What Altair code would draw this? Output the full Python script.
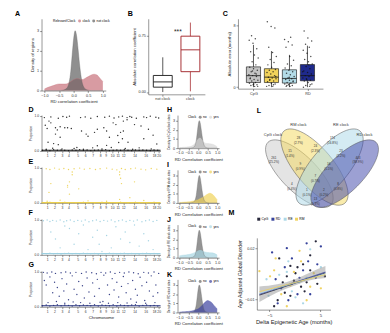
import altair as alt
import pandas as pd

FONT = "Liberation Sans"

# ---------------- data: densities (A, H-K) ----------------
dens_x = [-1.0, -0.9, -0.8, -0.7, -0.6, -0.5, -0.4, -0.3, -0.2, -0.15, -0.1, -0.05, 0.0,
          0.05, 0.1, 0.15, 0.2, 0.25, 0.3, 0.4, 0.5, 0.6, 0.7, 0.8, 0.9, 1.0]
dens_notclock = [0, 0, 0, 0, 0, 0, 0.01, 0.05, 0.2, 0.45, 0.95, 1.8, 2.6,
                 3.0, 2.75, 2.1, 1.35, 0.75, 0.35, 0.08, 0.02, 0, 0, 0, 0, 0]
dens_clock = [0.08, 0.15, 0.2, 0.25, 0.3, 0.33, 0.33, 0.33, 0.36, 0.4, 0.45, 0.5, 0.55,
              0.58, 0.6, 0.6, 0.58, 0.55, 0.55, 0.62, 0.7, 0.78, 0.82, 0.78, 0.62, 0.45]
dens_cpg = [0.05, 0.07, 0.09, 0.11, 0.13, 0.15, 0.2, 0.3, 0.45, 0.6, 0.75, 0.9, 1.0,
            1.08, 1.1, 1.0, 0.9, 0.75, 0.62, 0.52, 0.5, 0.48, 0.45, 0.4, 0.3, 0.15]
dens_rm = [0.05, 0.06, 0.08, 0.1, 0.11, 0.12, 0.15, 0.2, 0.25, 0.28, 0.3, 0.33, 0.36,
           0.42, 0.48, 0.52, 0.56, 0.62, 0.7, 0.85, 0.97, 1.05, 1.0, 0.85, 0.6, 0.35]
dens_re = [0.2, 0.25, 0.28, 0.3, 0.33, 0.35, 0.4, 0.47, 0.55, 0.6, 0.65, 0.7, 0.75,
           0.78, 0.8, 0.78, 0.75, 0.7, 0.65, 0.6, 0.56, 0.55, 0.53, 0.5, 0.42, 0.3]
dens_rd = [0.05, 0.06, 0.07, 0.08, 0.1, 0.12, 0.15, 0.2, 0.25, 0.28, 0.32, 0.36, 0.4,
           0.48, 0.58, 0.66, 0.75, 0.88, 1.0, 1.2, 1.3, 1.22, 1.1, 0.85, 0.6, 0.4]

# ---------------- data: B ----------------
B_cats = ["not clock", "clock"]
B_min = [0.0, 0.01]
B_q1 = [0.065, 0.27]
B_med = [0.135, 0.56]
B_q3 = [0.22, 0.74]
B_max = [0.46, 0.92]

# ---------------- data: C ----------------
C_cats = ["CpG", "RM", "RE", "RD"]
C_colors = ["#c4c4c4", "#f2d35b", "#b3dce8", "#1f2a8c"]
C_min = [0.0, 0.0, 0.0, 0.0]
C_q1 = [0.6, 0.6, 0.53, 0.83]
C_med = [1.5, 1.3, 1.13, 1.5]
C_q3 = [2.64, 2.4, 2.26, 2.94]
C_max = [5.5, 4.7, 4.2, 5.4]
C_pts = {
    "CpG": [0.1, 0.2, 0.3, 0.3, 0.5, 0.6, 0.8, 0.9, 1.0, 1.2, 1.4, 1.5, 1.6, 1.8, 2.0, 2.2, 2.4,
            2.6, 2.9, 3.3, 3.8, 4.2, 4.6, 5.0, 5.7, 6.1, 6.3, 6.7, 0.1, 0.4, 1.1, 1.7, 2.1],
    "RM": [0.1, 0.1, 0.2, 0.4, 0.5, 0.7, 0.8, 1.0, 1.1, 1.2, 1.3, 1.5, 1.7, 1.9, 2.0, 2.2, 2.3,
           2.6, 2.9, 3.2, 3.6, 4.0, 4.5, 5.2, 7.7, 7.9, 8.5, 0.3, 0.9, 1.4],
    "RE": [0.1, 0.1, 0.2, 0.3, 0.4, 0.5, 0.6, 0.8, 0.9, 1.0, 1.1, 1.2, 1.4, 1.6, 1.8, 2.0, 2.2,
           2.5, 2.8, 3.0, 3.5, 4.0, 5.2, 5.5, 5.9, 6.2, 6.5, 0.2, 0.7, 1.3],
    "RD": [0.0, 0.1, 0.2, 0.4, 0.6, 0.8, 0.9, 1.0, 1.2, 1.4, 1.5, 1.7, 1.9, 2.1, 2.4, 2.7, 3.0,
           3.3, 3.6, 4.0, 4.4, 4.8, 5.2, 5.6, 6.0, 6.4, 7.3, 0.3, 1.1, 2.0, 2.9],
}

# ---------------- data: D-G ----------------
chrom_labels = ["1", "2", "3", "4", "5", "6", "7", "8", "9", "10", "11", "12", "14", "16", "18", "20"]
chrom_pos = [6, 14, 22, 29, 39, 47, 55, 63, 69, 76, 82, 88, 100, 112, 121, 126]
base_x = [1, 5, 9, 13, 17, 21, 25, 29, 33, 37, 41, 45, 49, 53, 57, 61, 65, 69, 73, 77, 81, 85,
          89, 93, 97, 101, 105, 109, 113, 117, 121, 125]

D_x = [3, 10, 18, 23, 27, 30, 42, 47, 53, 60, 68, 73, 78, 83, 87, 92, 95, 97, 102, 110, 113, 117, 123, 126,
       4, 6, 8, 10, 15, 17, 20, 25, 28, 32, 15, 20, 7, 13, 18, 43, 48, 50, 57, 60, 67, 70, 73, 77, 80, 82,
       85, 88, 87, 88, 92, 93, 83, 70, 60, 100, 107, 110, 115, 120, 124,
       5, 12, 22, 35, 38, 45, 55, 65, 75, 90, 98, 105, 118]
D_y = [0.95, 0.97, 0.93, 0.98, 0.96, 0.99, 0.95, 0.97, 0.93, 0.98, 0.96, 0.99, 0.94, 0.97, 0.99, 0.95, 0.98, 0.96, 0.93, 0.97, 0.95, 0.99, 0.96, 0.94,
       0.73, 0.64, 0.85, 0.8, 0.66, 0.6, 0.69, 0.66, 0.66, 0.64, 0.48, 0.39, 0.25, 0.21, 0.18, 0.57, 0.48, 0.42, 0.53, 0.62, 0.66, 0.57, 0.39, 0.8, 0.75, 0.44,
       0.53, 0.57, 0.35, 0.85, 0.89, 0.25, 0.24, 0.16, 0.15, 0.75, 0.71, 0.35, 0.62, 0.45, 0.2,
       0.05, 0.08, 0.06, 0.07, 0.1, 0.05, 0.09, 0.06, 0.1, 0.07, 0.05, 0.09, 0.06]
D_base_y = [0.02, 0.03, 0.01, 0.04, 0.02, 0.03, 0.02, 0.01, 0.03, 0.02, 0.04, 0.02, 0.03, 0.01, 0.02, 0.03,
            0.02, 0.04, 0.01, 0.02, 0.03, 0.02, 0.04, 0.02, 0.01, 0.03, 0.02, 0.03, 0.02, 0.01, 0.03, 0.02]

E_x = [5, 9, 14, 19, 24, 29, 35, 41, 46, 52, 58, 63, 70, 76, 81, 86, 90, 96, 101, 107, 112, 118, 124,
       33, 33, 30, 10, 28, 28, 8, 30, 84, 84, 85, 86, 40, 100, 95,
       6, 20, 50, 70, 84, 110]
E_y = [0.97, 0.95, 0.99, 0.96, 0.98, 0.95, 0.97, 0.99, 0.96, 0.98, 0.95, 0.97, 0.99, 0.96, 0.94, 0.98, 0.95, 0.97, 0.99, 0.96, 0.94, 0.98, 0.96,
       0.88, 0.8, 0.6, 0.55, 0.5, 0.45, 0.3, 0.25, 0.88, 0.8, 0.7, 0.55, 0.4, 0.6, 0.15,
       0.05, 0.08, 0.06, 0.05, 0.1, 0.07]
E_base_y = [0.01, 0.0, 0.02, 0.01, 0.0, 0.01, 0.02, 0.0, 0.01, 0.0, 0.01, 0.02, 0.0, 0.01, 0.0, 0.01,
            0.02, 0.01, 0.0, 0.01, 0.0, 0.02, 0.01, 0.0, 0.01, 0.02, 0.0, 0.01, 0.0, 0.01, 0.02, 0.0]

F_x = [2, 6, 9, 12, 16, 20, 24, 27, 31, 35, 39, 43, 47, 51, 55, 59, 63, 67, 71, 75, 79, 83, 87, 91, 95, 99, 103, 108, 112, 116, 120, 124,
       10, 15, 25, 30, 40, 45, 55, 60, 62, 70, 75, 80, 85, 90, 95, 100, 105, 110, 115, 120, 20, 35, 50, 65]
F_y = [0.97, 0.99, 0.95, 0.98, 0.96, 0.99, 0.94, 0.97, 0.99, 0.95, 0.98, 0.96, 0.99, 0.94, 0.97, 0.99, 0.95, 0.98, 0.96, 0.99, 0.94, 0.97, 0.99, 0.95, 0.98, 0.96, 0.99, 0.94, 0.97, 0.99, 0.95, 0.98,
       0.65, 0.45, 0.82, 0.75, 0.6, 0.85, 0.5, 0.7, 0.3, 0.55, 0.2, 0.8, 0.45, 0.65, 0.35, 0.85, 0.25, 0.6, 0.4, 0.15, 0.2, 0.3, 0.15, 0.1]
F_base_y = [0.04, 0.03, 0.05, 0.03, 0.04, 0.02, 0.04, 0.05, 0.03, 0.04, 0.03, 0.05, 0.04, 0.03, 0.04, 0.02,
            0.04, 0.03, 0.05, 0.04, 0.03, 0.04, 0.05, 0.03, 0.04, 0.03, 0.02, 0.04, 0.05, 0.03, 0.04, 0.03]

G_x = [2, 6, 11, 15, 21, 26, 31, 37, 43, 48, 54, 59, 64, 69, 74, 79, 84, 89, 94, 99, 104, 110, 115, 121, 126,
       3, 5, 9, 12, 14, 17, 19, 22, 24, 27, 29, 33, 35, 38, 40, 44, 46, 49, 51, 55, 57, 60, 62, 66, 67, 71, 73,
       76, 78, 81, 83, 86, 88, 91, 93, 96, 98, 101, 103, 106, 108, 111, 113, 116, 118, 120, 123, 125,
       7, 16, 25, 34, 42, 52, 63, 72, 82, 92, 102, 112, 122]
G_y = [0.98, 0.96, 0.99, 0.95, 0.97, 0.99, 0.96, 0.98, 0.95, 0.99, 0.97, 0.94, 0.98, 0.96, 0.99, 0.95, 0.98, 0.96, 0.99, 0.97, 0.94, 0.98, 0.96, 0.99, 0.95,
       0.75, 0.62, 0.85, 0.4, 0.7, 0.55, 0.3, 0.8, 0.45, 0.65, 0.2, 0.88, 0.5, 0.35, 0.72, 0.6, 0.25, 0.82, 0.42, 0.68, 0.3, 0.78, 0.52, 0.15, 0.9, 0.62, 0.35,
       0.8, 0.48, 0.7, 0.28, 0.58, 0.86, 0.4, 0.66, 0.22, 0.75, 0.5, 0.33, 0.84, 0.6, 0.18, 0.7, 0.45, 0.88, 0.3, 0.62, 0.4,
       0.12, 0.15, 0.1, 0.14, 0.12, 0.1, 0.13, 0.1, 0.12, 0.11, 0.13, 0.1, 0.12]
G_base_y = [0.03, 0.05, 0.02, 0.04, 0.06, 0.03, 0.05, 0.04, 0.02, 0.06, 0.03, 0.05, 0.04, 0.03, 0.06, 0.02,
            0.05, 0.04, 0.03, 0.06, 0.02, 0.05, 0.04, 0.03, 0.05, 0.06, 0.02, 0.04, 0.05, 0.03, 0.04, 0.02]

# ---------------- data: L (Venn) ----------------
V_sets = ["CpG clock", "RM clock", "RE clock", "RD clock"]
V_colors = ["#c9c9c9", "#f4d75a", "#a9d8e8", "#3a42a8"]
V_cx = [45, 61, 77, 93]
V_cy = [62, 55, 55, 62]
V_len = [94, 100, 100, 94]
V_angle = [45, 50, 310, 315]
V_lab_x = [17, 44, 89, 114]
V_lab_y = [21, 10, 10, 21]
R_count = ["261", "28", "174", "403", "15", "24", "23", "9", "16", "4", "7", "8", "1", "2", "13"]
R_pct = ["(25.2%)", "(2.7%)", "(16.8%)", "(38.9%)", "(1.4%)", "(2.3%)", "(2.2%)", "(0.9%)",
         "(1.5%)", "(0.4%)", "(0.7%)", "(0.8%)", "(0.1%)", "(0.2%)", "(1.3%)"]
R_x = [18, 44, 80, 107, 35, 62, 89, 46, 76, 37, 62, 86, 53, 71, 62]
R_y = [45, 24, 24, 45, 38, 33, 38, 52, 52, 73, 65, 73, 79, 79, 89]

# ---------------- data: M ----------------
M_groups = ["CpG", "RD", "RE", "RM"]
M_colors = ["#1c1c30", "#2b3896", "#a8d5e5", "#efd15a"]
M_pts = {
    "CpG": ([-3.1, -0.9, 1.6, 4.1, 0.1, 3.0, 1.2, 1.9, -0.9, -2.0, -3.4, -4.1, 2.3, 4.4, -0.2, -1.6, 0.5, 3.0, -2.4, 5.9],
            [0.014, 0.0096, 0.0105, 0.024, 0.0053, 0.007, -0.0026, -0.0053, -0.0079, -0.0061, -0.0105, -0.014, 0.0, -0.0009, 0.0009, 0.0035, 0.0088, 0.0158, 0.0, 0.0035]),
    "RD": ([-4.5, -1.6, -0.6, 2.3, 5.1, 0.9, -3.8, -2.7, -1.3, 0.5, 3.0, 4.1, 1.6, -0.6, -3.4, 2.6, -2.0, 4.4],
           [0.0175, 0.02, 0.014, 0.0228, 0.021, 0.0026, 0.0018, -0.0035, -0.0105, -0.007, -0.007, 0.0026, 0.007, -0.0009, -0.0123, 0.0123, 0.0088, 0.0105]),
    "RE": ([-5.6, -4.1, -1.6, 0.9, -2.4, 0.1, 2.3, -1.3, 3.0, -3.1, -0.6, 1.6, 5.1, -5.2],
           [0.0018, -0.0044, 0.0061, 0.0, -0.0026, -0.0088, 0.0026, 0.0123, 0.0193, 0.0044, -0.0053, -0.0123, 0.0088, -0.0079]),
    "RM": ([-7.0, -4.9, -3.8, -0.2, 1.2, 3.0, 3.7, -2.7, -1.6, 2.3, 5.1, -0.9, 0.9, -4.1],
           [0.0065, 0.0035, 0.014, 0.0061, 0.0123, -0.0026, 0.0053, -0.007, -0.014, -0.0105, -0.0035, -0.0018, 0.0184, 0.007]),
}
M_line_x = [-7.0, 6.0]
M_line_y = {"CpG": [-0.0075, 0.0055], "RD": [-0.007, 0.006], "RE": [-0.0065, 0.005], "RM": [-0.0055, 0.0045]}
M_band_x = [-7.0, -3.5, 0.0, 3.0, 6.0]
M_band_lo = [-0.0115, -0.006, -0.0018, 0.0012, 0.0025]
M_band_hi = [-0.0025, -0.0012, 0.0018, 0.0058, 0.0095]


# ---------------- helpers ----------------
def letter(t, dx=0):
    return alt.TitleParams(t, anchor="start", fontSize=7.5, fontWeight="bold", font=FONT,
                           offset=1, dx=dx, color="black")


def indep(c):
    return c.resolve_scale(color="independent", fill="independent", stroke="independent").resolve_legend(
        color="independent", fill="independent", stroke="independent")


def density_panel(t, series, names, colors, legend_title, ytitle, w, h, dx=0, ytf=4.5, lx=0.2):
    rows = []
    for nm, vals in zip(names, series):
        for xv, dv in zip(dens_x, vals):
            rows.append({"x": xv, "d": dv, "g": nm})
    df = pd.DataFrame(rows)
    return alt.Chart(df, title=letter(t, dx)).mark_area(
        interpolate="monotone", opacity=0.7, line={"strokeWidth": 0.4, "opacity": 0.9}
    ).encode(
        x=alt.X("x:Q", scale=alt.Scale(domain=[-1.1, 1.1], nice=False),
                axis=alt.Axis(values=[-1, -0.5, 0, 0.5, 1], format=".1f",
                              title="RD correlation coefficient" if t == "A" else "RD Correlation coefficient")),
        y=alt.Y("d:Q", stack=None, scale=alt.Scale(domain=[0, 3.6], nice=False),
                axis=alt.Axis(values=[0, 1, 2, 3], title=ytitle, titleFontSize=ytf)),
        color=alt.Color("g:N", scale=alt.Scale(domain=names, range=colors),
                        legend=alt.Legend(orient="none", legendX=w * lx, legendY=0, direction="horizontal",
                                          title=legend_title, titleOrient="left")),
    ).properties(width=w, height=h)


# ---------------- A ----------------
chartA = density_panel("A", [dens_clock, dens_notclock], ["clock", "not clock"],
                       ["#c8717b", "#5f5f5f"], "Relevant/Clock", "Density of regions", 68, 76, dx=-16, lx=0.18)

# ---------------- B ----------------
dfB = pd.DataFrame({"cat": B_cats, "lo": B_min, "q1": B_q1, "med": B_med, "q3": B_q3, "hi": B_max})
B_col = alt.Color("cat:N", scale=alt.Scale(domain=B_cats, range=["#222222", "#a3262b"]), legend=None)
B_x = alt.X("cat:N", sort=B_cats, scale=alt.Scale(paddingInner=0.45, paddingOuter=0.25),
            axis=alt.Axis(labelAngle=0, title=None))
B_y = alt.Y("lo:Q", scale=alt.Scale(domain=[-0.03, 0.97], nice=False),
            axis=alt.Axis(values=[0, 0.25, 0.5, 0.75], format=".2f", title="Absolute correlation coefficient"))
bw = alt.Chart(dfB).mark_rule(strokeWidth=0.8).encode(x=B_x, y=B_y, y2="hi:Q", color=B_col)
bb = alt.Chart(dfB).mark_bar(size=20, fill="white", strokeWidth=1).encode(
    x=B_x, y="q1:Q", y2="q3:Q",
    stroke=alt.Stroke("cat:N", scale=alt.Scale(domain=B_cats, range=["#222222", "#a3262b"]), legend=None))
bm = alt.Chart(dfB).mark_tick(size=20, thickness=1.4).encode(x=B_x, y="med:Q", color=B_col)
dfStar = pd.DataFrame({"cat": ["not clock"], "lo": [0.8], "t": ["***"]})
bs = alt.Chart(dfStar).mark_text(fontSize=7, dx=16, font=FONT, color="#222").encode(x=B_x, y="lo:Q", text="t:N")
chartB = alt.layer(bw, bb, bm, bs, title=letter("B", -4)).properties(width=60, height=80)

# ---------------- C ----------------
dfCb = pd.DataFrame({"cat": C_cats, "idx": list(range(len(C_cats))), "lo": C_min, "q1": C_q1,
                     "med": C_med, "q3": C_q3, "hi": C_max})
rowsC = []
for i, c in enumerate(C_cats):
    for v in C_pts[c]:
        rowsC.append({"cat": c, "idx": i, "v": v})
dfCp = pd.DataFrame(rowsC)
labexprC = "[" + ",".join("'%s'" % c for c in C_cats) + "][datum.value]"
C_xs = alt.Scale(domain=[-0.6, 3.6], nice=False, zero=False)
C_xax = alt.Axis(values=list(range(len(C_cats))), labelExpr=labexprC, title=None, grid=False)
C_ys = alt.Scale(domain=[-0.2, 8.9], nice=False)
C_yax = alt.Axis(values=[0, 2, 4, 6, 8], title="Absolute error (months)")
cw = alt.Chart(dfCb).mark_rule(strokeWidth=0.8, color="#222").encode(
    x=alt.X("idx:Q", scale=C_xs, axis=C_xax), y=alt.Y("lo:Q", scale=C_ys, axis=C_yax), y2="hi:Q")
cb = alt.Chart(dfCb).mark_bar(size=15, stroke="#222", strokeWidth=0.7).encode(
    x="idx:Q", y="q1:Q", y2="q3:Q",
    fill=alt.Fill("cat:N", scale=alt.Scale(domain=C_cats, range=C_colors), legend=None))
cm = alt.Chart(dfCb).mark_tick(size=15, thickness=1.2, color="#111", orient="horizontal").encode(x="idx:Q", y="med:Q")
cp = alt.Chart(dfCp).transform_window(rn="row_number()").transform_calculate(
    px="datum.idx + ((datum.rn * 0.6180339) % 1 - 0.5) * 0.55"
).mark_circle(size=2.5, color="#111", opacity=0.75).encode(x="px:Q", y="v:Q")
chartC = alt.layer(cw, cb, cp, cm, title=letter("C", -4)).properties(width=90, height=74)

# ---------------- D-G ----------------
labexprChr = "{" + ",".join("'%d':'%s'" % (p, l) for p, l in zip(chrom_pos, chrom_labels)) + "}[''+datum.value]"


def prop_panel(t, xs, ys, bys, color, xtitle, line_y):
    df = pd.DataFrame({"x": list(xs) + base_x, "y": list(ys) + bys})
    xsc = alt.Scale(domain=[0, 128], nice=False)
    xax = alt.Axis(values=chrom_pos, labelExpr=labexprChr, labelOverlap=False, title=xtitle, ticks=True,
                   labelFontSize=3.5)
    ysc = alt.Scale(domain=[0, 1.02], nice=False)
    yax = alt.Axis(values=[0, 0.2, 0.4, 0.6, 0.8, 1.0], format=".1f", title="Proportion", titleFontSize=3.5,
                   labelFontSize=3.5)
    pts = alt.Chart(df).mark_circle(size=2.2, color=color, opacity=0.9).encode(
        x=alt.X("x:Q", scale=xsc, axis=xax), y=alt.Y("y:Q", scale=ysc, axis=yax))
    ln = alt.Chart(pd.DataFrame({"y": [line_y]})).mark_rule(color=color, strokeWidth=1.2).encode(y="y:Q")
    return alt.layer(pts, ln, title=letter(t, 0)).properties(width=126, height=38)


chartD = prop_panel("D", D_x, D_y, D_base_y, "#111111", None, 0.02)
chartE = prop_panel("E", E_x, E_y, E_base_y, "#ecd04e", None, 0.01)
chartF = prop_panel("F", F_x, F_y, F_base_y, "#9ccfe0", None, 0.035)
chartG = prop_panel("G", G_x, G_y, G_base_y, "#26307c", "Chromosome", 0.03)

# ---------------- H-K ----------------
hk_w, hk_h = 44, 35
chartH = density_panel("H", [dens_notclock, dens_cpg], ["no", "yes"], ["#666666", "#d6d6d6"], "Clock",
                       "Density of CpG clock sites", hk_w, hk_h, ytf=3.2, lx=0.25)
chartI = density_panel("I", [dens_notclock, dens_rm], ["no", "yes"], ["#666666", "#f0d35a"], "Clock",
                       "Density of RM clock sites", hk_w, hk_h, ytf=3.2, lx=0.25)
chartJ = density_panel("J", [dens_notclock, dens_re], ["no", "yes"], ["#666666", "#a7d5e2"], "Clock",
                       "Density of RE clock sites", hk_w, hk_h, ytf=3.2, lx=0.25)
chartK = density_panel("K", [dens_notclock, dens_rd], ["no", "yes"], ["#666666", "#3d43a0"], "Clock",
                       "Density of RD clock sites", hk_w, hk_h, ytf=3.2, lx=0.25)

# ---------------- L ----------------
ELL = "M -1 0 A 1 0.4 0 1 1 1 0 A 1 0.4 0 1 1 -1 0 Z"
dfV = pd.DataFrame({"set": V_sets, "cx": V_cx, "cy": V_cy, "sz": [v * v for v in V_len], "ang": V_angle})
Lx = alt.X("cx:Q", scale=alt.Scale(domain=[0, 140], nice=False), axis=None)
Ly = alt.Y("cy:Q", scale=alt.Scale(domain=[0, 96], reverse=True, nice=False), axis=None)
ell = alt.Chart(dfV).mark_point(shape=ELL, filled=True, fillOpacity=0.5, stroke="#555555",
                                strokeWidth=0.5, strokeOpacity=1).encode(
    x=Lx, y=Ly, size=alt.Size("sz:Q", scale=None, legend=None), angle=alt.Angle("ang:Q", scale=None),
    fill=alt.Fill("set:N", scale=alt.Scale(domain=V_sets, range=V_colors), legend=None))
dfVl = pd.DataFrame({"cx": V_lab_x, "cy": V_lab_y, "t": V_sets})
vl = alt.Chart(dfVl).mark_text(fontSize=4.2, font=FONT, color="#333").encode(x="cx:Q", y="cy:Q", text="t:N")
dfR = pd.DataFrame({"cx": R_x, "cy": R_y, "t": [c + "\n" + p for c, p in zip(R_count, R_pct)]})
vr = alt.Chart(dfR).mark_text(fontSize=3.2, font=FONT, color="#333", lineBreak="\n").encode(
    x="cx:Q", y="cy:Q", text="t:N")
chartL = alt.layer(ell, vl, vr, title=letter("L", 0)).properties(width=140, height=96)

# ---------------- M ----------------
rowsM = []
for g in M_groups:
    xs, ys = M_pts[g]
    for xv, yv in zip(xs, ys):
        rowsM.append({"g": g, "x": xv, "y": yv})
dfM = pd.DataFrame(rowsM)
rowsL = []
for g in M_groups:
    for xv, yv in zip(M_line_x, M_line_y[g]):
        rowsL.append({"g": g, "x": xv, "y": yv})
dfML = pd.DataFrame(rowsL)
dfMB = pd.DataFrame({"x": M_band_x, "lo": M_band_lo, "hi": M_band_hi})
Mxs = alt.Scale(domain=[-7.5, 7], nice=False)
Mys = alt.Scale(domain=[-0.016, 0.026], nice=False)
Mcol = alt.Color("g:N", scale=alt.Scale(domain=M_groups, range=M_colors),
                 legend=alt.Legend(orient="top", title=None, direction="horizontal", symbolType="square"))
mp = alt.Chart(dfM).mark_circle(size=6, opacity=0.95).encode(
    x=alt.X("x:Q", scale=Mxs, axis=alt.Axis(values=[-5, 0, 5], title="Delta Epigenetic Age (months)",
                                            titleFontSize=6, labelFontSize=4.5)),
    y=alt.Y("y:Q", scale=Mys, axis=alt.Axis(values=[-0.01, 0, 0.01, 0.02], format=".2f",
                                            title="Age Adjusted Global Disorder", titleFontSize=5.5,
                                            labelFontSize=4)),
    color=Mcol)
mb = alt.Chart(dfMB).mark_area(color="#8a8a8a", opacity=0.45, interpolate="monotone").encode(
    x="x:Q", y="lo:Q", y2="hi:Q")
ml = alt.Chart(dfML).mark_line(strokeWidth=0.8).encode(x="x:Q", y="y:Q", color=alt.Color("g:N", legend=None))
chartM = alt.layer(mp, mb, ml, title=letter("M", -10)).properties(width=78, height=76)

# ---------------- layout ----------------
top = indep(alt.hconcat(chartA, chartB, chartC, spacing=18))
left = alt.vconcat(chartD, chartE, chartF, chartG, spacing=0)
mid = indep(alt.vconcat(chartH, chartI, chartJ, chartK, spacing=0))
right = indep(alt.vconcat(chartL, chartM, spacing=0))
bottom = indep(alt.hconcat(left, mid, right, spacing=5))
chart = indep(alt.vconcat(top, bottom, spacing=2)).properties(
    padding={"left": 15, "top": 1, "right": 1, "bottom": 1}
).configure(font=FONT, background="white").configure_view(stroke=None).configure_axis(
    labelFontSize=4, titleFontSize=4.5, tickSize=2, labelPadding=1, titlePadding=2, domainWidth=0.5,
    tickWidth=0.5, domainColor="#222", tickColor="#222", labelColor="#333", titleColor="#222",
    titleFontWeight="normal", grid=False, labelFont=FONT, titleFont=FONT
).configure_legend(
    labelFontSize=3.5, titleFontSize=3.5, symbolSize=10, columnPadding=2, padding=0, labelOffset=1,
    titleFontWeight="normal", titlePadding=2, symbolStrokeWidth=0, labelFont=FONT, titleFont=FONT
)

chart.save("out.html", embed_options={"renderer": "svg", "actions": False})
